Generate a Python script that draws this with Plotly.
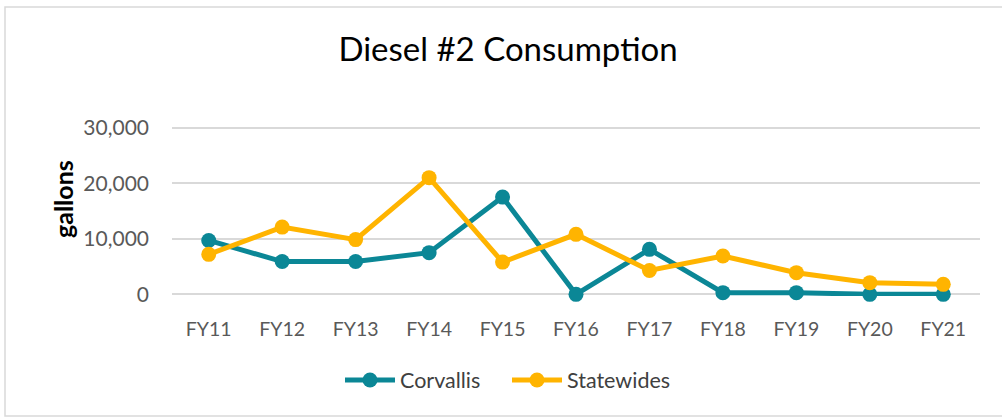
import plotly.graph_objects as go

categories = ["FY11", "FY12", "FY13", "FY14", "FY15", "FY16", "FY17", "FY18", "FY19", "FY20", "FY21"]
corvallis = [9700, 5900, 5900, 7500, 17500, 0, 8100, 300, 300, 0, 0]
statewides = [7200, 12100, 9850, 21000, 5800, 10800, 4300, 6900, 3900, 2100, 1800]
y_ticks = [0, 10000, 20000, 30000]
y_tick_labels = ["0", "10,000", "20,000", "30,000"]

FONT = "Lato, Open Sans, sans-serif"

L, T, B = 172, 126, 122
W, H = 1002, 418
PW = W - L - 22
PH = H - T - B


def px_x(p):
    return (p - L) / PW


def px_y(p):
    return ((H - B) - p) / PH


fig = go.Figure()
fig.add_trace(go.Scatter(
    x=categories, y=corvallis, name="Corvallis", mode="lines+markers",
    line=dict(color="#0B8796", width=5), marker=dict(size=15, color="#0B8796"),
    cliponaxis=False,
))
fig.add_trace(go.Scatter(
    x=categories, y=statewides, name="Statewides", mode="lines+markers",
    line=dict(color="#FFB400", width=5), marker=dict(size=15, color="#FFB400"),
    cliponaxis=False,
))

fig.update_layout(
    width=W, height=H,
    margin=dict(l=L, r=22, t=T, b=B, autoexpand=False),
    paper_bgcolor="white", plot_bgcolor="white",
    font=dict(family=FONT, color="#595959", size=19.5),
    title=dict(text="Diesel #2 Consumption", x=0.507, xanchor="center", y=0.882, yanchor="middle",
               font=dict(family=FONT, size=33, color="#000000")),
    showlegend=True,
    legend=dict(orientation="h", x=px_x(340), xanchor="left", y=px_y(380), yanchor="middle",
                font=dict(family=FONT, size=21.5, color="#404040"), itemwidth=50,
                entrywidth=102, entrywidthmode="pixels"),
    xaxis=dict(type="category", range=[-0.5, 10.5], showgrid=False, showline=False,
               ticks="", automargin=False, ticklabelstandoff=19,
               tickfont=dict(family=FONT, size=19.5, color="#595959")),
    yaxis=dict(range=[-300, 30300], tickvals=y_ticks, ticktext=y_tick_labels,
               showgrid=True, gridcolor="#D9D9D9", gridwidth=2, zeroline=False,
               showline=False, ticks="", ticklabelstandoff=22, automargin=False,
               tickfont=dict(family=FONT, size=21, color="#595959")),
)

# y-axis title placed as in the reference (not centred on the plot area)
fig.add_annotation(text="<b>gallons</b>", textangle=-90, showarrow=False,
                   xref="paper", yref="paper", x=px_x(63), y=px_y(199),
                   xanchor="center", yanchor="middle",
                   font=dict(family=FONT, size=25, color="#000000"))

# outer chart border: top, left and bottom edges only (right edge is outside the picture)
border = dict(color="#D9D9D9", width=1.5)
fig.add_shape(type="path", xref="paper", yref="paper", layer="below", line=border,
              path=f"M {px_x(1002)} {px_y(7)} L {px_x(5)} {px_y(7)} "
                   f"L {px_x(5)} {px_y(416)} L {px_x(1002)} {px_y(416)}")

fig.write_html("out.html", config={"displayModeBar": False},
               post_script="document.body.style.margin='0';")
